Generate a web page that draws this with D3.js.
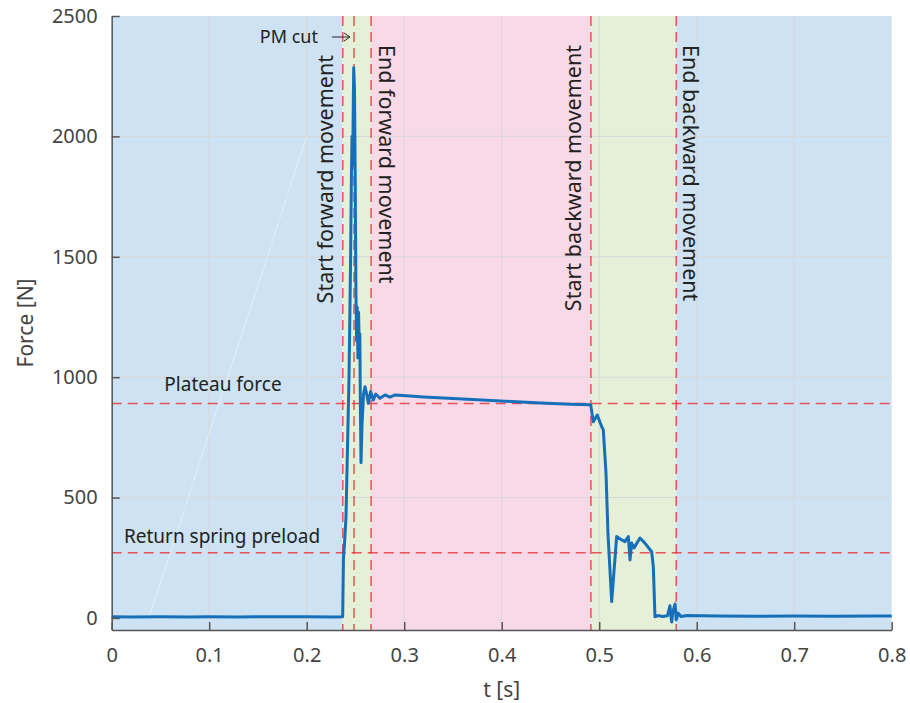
<!DOCTYPE html>
<html>
<head>
<meta charset="utf-8">
<script src="https://cdn.jsdelivr.net/npm/d3@7"></script>
<style>
  body { margin: 0; background: #fff; }
  svg text { font-family: "Noto Sans", "Open Sans", sans-serif; }
</style>
</head>
<body>
<svg id="chart" width="910" height="703"></svg>
<script>
// phase boundaries [s]
const phaseEdges = [0, 0.237, 0.266, 0.4915, 0.579, 0.8];
const phaseColors = ['#cde3f3', '#e6efd7', '#f7d9e8', '#e6efd7', '#cde3f3'];
const markerTimes = [0.237, 0.2485, 0.266, 0.4915, 0.579];
const levelForces = [891, 271];

const xTicks = [0, 0.1, 0.2, 0.3, 0.4, 0.5, 0.6, 0.7, 0.8];
const yTicks = [0, 500, 1000, 1500, 2000, 2500];

// measured force [s, N]
const forceT = [0, 0.02, 0.05, 0.08, 0.1, 0.13, 0.16, 0.2, 0.23, 0.2365,
  0.2369, 0.2377, 0.2388, 0.2403, 0.2418, 0.2434, 0.2449, 0.2459, 0.2465, 0.2470, 0.2475, 0.2482,
  0.2490, 0.2498, 0.2505, 0.2512, 0.2518, 0.2525, 0.2532, 0.2540, 0.2545, 0.2550, 0.2557,
  0.2567, 0.2583, 0.2598, 0.2615, 0.2632, 0.2656, 0.2683, 0.2708, 0.2752, 0.2803, 0.2854, 0.2906, 0.2988,
  0.32, 0.35, 0.38, 0.41, 0.44, 0.47, 0.4913,
  0.4939, 0.4980, 0.5026, 0.5042, 0.507, 0.509, 0.5128, 0.5179, 0.5231, 0.5264, 0.5299, 0.5316,
  0.5333, 0.5357, 0.5418, 0.5469, 0.5538, 0.5555, 0.5572,
  0.56, 0.565, 0.57, 0.5726, 0.5737, 0.5744, 0.5755, 0.5778, 0.5790, 0.581, 0.584, 0.59,
  0.62, 0.66, 0.7, 0.74, 0.78, 0.8];
const forceN = [5, 4, 5, 4, 5, 4, 5, 5, 4, 5,
  5, 250, 310, 420, 700, 1000, 1450, 1850, 2000, 1880, 2020, 2285,
  2200, 1800, 1350, 1150, 1290, 1080, 1270, 1100, 1180, 900, 645,
  800, 930, 960, 930, 892, 940, 905, 930, 912, 926, 917, 926, 924,
  918, 911, 905, 899, 893, 888, 885,
  815, 843, 794, 781, 600, 350, 68, 338, 324, 317, 338, 241,
  311, 291, 332, 311, 275, 213, 5,
  10, 6, 9, 51, 2, -17, 25, 58, -8, 20, 6, 10,
  8, 7, 8, 7, 8, 8];
const forceData = forceT.map((t, i) => ({ t, f: forceN[i] }));

// faint trace in the background
const traceT = [0.038, 0.2];
const traceN = [0, 2000];

const L = 111.7, R = 891.7, T = 16, B = 630;

const svg = d3.select('#chart');
const x = d3.scaleLinear().domain([0, 0.8]).range([L, R]);
const y = d3.scaleLinear().domain([-50, 2500]).range([B, T]);

// phase backgrounds
svg.append('g').selectAll('rect')
  .data(phaseColors).join('rect')
  .attr('x', (d, i) => x(phaseEdges[i]))
  .attr('width', (d, i) => x(phaseEdges[i + 1]) - x(phaseEdges[i]))
  .attr('y', T).attr('height', B - T)
  .attr('fill', d => d);

// grid
const grid = svg.append('g').attr('stroke', '#d8d8d8').attr('stroke-width', 1);
grid.selectAll('.gx').data(xTicks.slice(1, -1)).join('line')
  .attr('x1', d => x(d)).attr('x2', d => x(d)).attr('y1', T).attr('y2', B);
grid.selectAll('.gy').data(yTicks.slice(1, -1)).join('line')
  .attr('x1', L).attr('x2', R).attr('y1', d => y(d)).attr('y2', d => y(d));

// faint trace
svg.append('line')
  .attr('x1', x(traceT[0])).attr('y1', y(traceN[0]))
  .attr('x2', x(traceT[1])).attr('y2', y(traceN[1]))
  .attr('stroke', '#ffffff').attr('stroke-opacity', 0.4).attr('stroke-width', 1);

// dashed reference lines
const red = '#e5393f';
svg.append('g').selectAll('line').data(markerTimes).join('line')
  .attr('x1', d => x(d)).attr('x2', d => x(d)).attr('y1', T).attr('y2', B)
  .attr('stroke', red).attr('stroke-width', 1.5).attr('stroke-dasharray', '10,6')
  .attr('stroke-opacity', 0.85);
svg.append('g').selectAll('line').data(levelForces).join('line')
  .attr('x1', L).attr('x2', R).attr('y1', d => y(d)).attr('y2', d => y(d))
  .attr('stroke', red).attr('stroke-width', 1.5).attr('stroke-dasharray', '10,6')
  .attr('stroke-opacity', 0.85);

// force signal
svg.append('path')
  .datum(forceData)
  .attr('fill', 'none')
  .attr('stroke', '#1570b9')
  .attr('stroke-width', 3)
  .attr('stroke-linejoin', 'round')
  .attr('d', d3.line().x(d => x(d.t)).y(d => y(d.f)));

// axes
const xAxis = svg.append('g').attr('transform', `translate(0,${B})`)
  .call(d3.axisBottom(x).tickValues(xTicks).tickFormat(d3.format('')).tickSizeInner(-8).tickSizeOuter(0).tickPadding(18));
const yAxis = svg.append('g').attr('transform', `translate(${L},0)`)
  .call(d3.axisLeft(y).tickValues(yTicks).tickFormat(d3.format('d')).tickSizeInner(-8).tickSizeOuter(0).tickPadding(14));
[xAxis, yAxis].forEach(a => {
  a.select('.domain').attr('stroke', '#555').attr('stroke-width', 1.5);
  a.selectAll('.tick line').attr('stroke', '#555').attr('stroke-width', 1.5);
  a.selectAll('.tick text').attr('fill', '#444').style('font-size', '20px');
});

svg.append('text').attr('x', (L + R) / 2).attr('y', 697)
  .attr('text-anchor', 'middle').attr('fill', '#444').style('font-size', '21px').text('t [s]');
svg.append('text').attr('transform', `translate(33,${(T + B) / 2}) rotate(-90)`)
  .attr('text-anchor', 'middle').attr('fill', '#444').style('font-size', '21px').text('Force [N]');

// annotations
const ann = svg.append('g').attr('fill', '#222').style('font-size', '19px');
ann.append('text').attr('x', 223).attr('y', 391).attr('text-anchor', 'middle').text('Plateau force');
ann.append('text').attr('x', 222).attr('y', 543).attr('text-anchor', 'middle').text('Return spring preload');
ann.append('text').attr('x', 318).attr('y', 43).attr('text-anchor', 'end').style('font-size', '18px').text('PM cut');
svg.append('line').attr('x1', 332).attr('x2', 349).attr('y1', 37).attr('y2', 37)
  .attr('stroke', '#222').attr('stroke-width', 1);
svg.append('path').attr('d', 'M344,33 L350,37 L344,41').attr('fill', 'none')
  .attr('stroke', '#222').attr('stroke-width', 1);

const vLabels = [
  { text: 'Start forward movement', x: 333, y: 55, rot: -90 },
  { text: 'End forward movement', x: 379, y: 45, rot: 90 },
  { text: 'Start backward movement', x: 581, y: 45, rot: -90 },
  { text: 'End backward movement', x: 683, y: 45, rot: 90 }
];
ann.selectAll('.vl').data(vLabels).join('text')
  .attr('transform', d => `translate(${d.x},${d.y}) rotate(${d.rot})`)
  .attr('text-anchor', d => d.rot < 0 ? 'end' : 'start')
  .style('font-size', '21.5px')
  .text(d => d.text);
</script>
</body>
</html>
